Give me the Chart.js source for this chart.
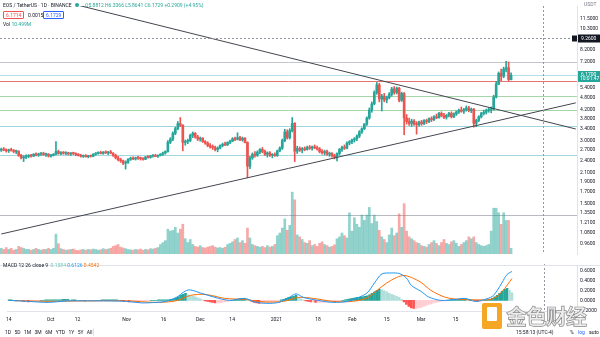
<!DOCTYPE html>
<html>
<head>
<meta charset="utf-8">
<script src="https://cdn.jsdelivr.net/npm/chart.js@4.4.1/dist/chart.umd.min.js"></script>
<style>
  body { margin: 0; background: #fff; font-family: Roboto, "Liberation Sans", sans-serif; }
  #wrap { position: relative; width: 600px; height: 337px; overflow: hidden; background: #fff; }
  canvas { position: absolute; left: 0; }
  #main { top: 0; }
  #macd { top: 260px; }
  .t { position: absolute; white-space: nowrap; font-size: 5px; line-height: 6px; color: #131722; }
  .teal { color: #26a69a; }
  .box { position: absolute; font-size: 5px; line-height: 6px; padding: 0 2px; border-radius: 1px; background: #fff; }
  .tb span { margin-right: 3.4px; }
  #wm { position: absolute; left: 482px; top: 302px; width: 110px; height: 30px; }
  #wm .ico { position: absolute; left: 0; top: 1px; width: 20px; height: 26px; background: #f5a623; border-radius: 2px; }
  #wm .ico2 { position: absolute; left: 5px; top: 4px; width: 10px; height: 14px; background: #fff; border-radius: 1px; }
  #wm .txt { position: absolute; left: 24px; top: -2px; font-family: "Noto Sans CJK SC"; font-weight: bold; font-size: 21px; color: #ececec; -webkit-text-stroke: 0.7px #8a8a8a; letter-spacing: -1px; }
</style>
</head>
<body>
<div id="wrap">
  <canvas id="main" width="600" height="260"></canvas>
  <canvas id="macd" width="600" height="64"></canvas>

  <div class="t" style="left:3px;top:2px;">EOS / TetherUS · 1D · BINANCE</div>
  <div style="position:absolute;left:75px;top:3px;width:4px;height:4px;border-radius:2px;background:#26a69a;"></div>
  <div class="t teal" style="left:85px;top:2px;">O5.8812 H6.3366 L5.8641 C6.1729 +0.2909 (+4.95%)</div>
  <div class="box" style="left:3px;top:11px;border:0.7px solid #ef5350;color:#ef5350;">6.1714</div>
  <div class="t" style="left:28px;top:12px;">0.0015</div>
  <div class="box" style="left:43px;top:11px;border:0.7px solid #2962ff;color:#2962ff;">6.1729</div>
  <div class="t" style="left:3px;top:21px;">Vol <span class="teal">10.499M</span></div>
  <div class="t" style="left:3px;top:262px;">MACD 12 26 close 9 &nbsp;<span style="color:#7fc7bf">0.1584</span> <span style="color:#2196f3">0.6126</span> <span style="color:#ff6d00">0.4542</span></div>
  <div class="t" style="left:584px;top:1px;color:#787b86;">USDT</div>

  <div class="t tb" style="left:5px;top:329px;color:#131722;"><span>1D</span><span>5D</span><span>1M</span><span>3M</span><span>6M</span><span>YTD</span><span>1Y</span><span>5Y</span><span>All</span></div>
  <div style="position:absolute;left:93px;top:328px;width:1px;height:8px;background:#e0e3eb;"></div>
  <div class="t" style="left:516px;top:329px;">15:58:13 (UTC-4)</div>
  <div class="t" style="left:570px;top:329px;">%</div>
  <div class="t" style="left:578px;top:329px;color:#2962ff;">log</div>
  <div class="t" style="left:589px;top:329px;">auto</div>

  <div id="wm"><div class="ico"><div class="ico2"></div></div><div class="txt">金色财经</div></div>
</div>

<script>
// daily candles, EOS/USDT (Binance), 2020-09-14 .. 2021-04-07, plus empty days on the right
const dayCount = 232;
const dates = [];
{
  const d = new Date(Date.UTC(2020, 8, 14));
  for (let i = 0; i < dayCount; i++) {
    dates.push(d.toISOString().slice(0, 10));
    d.setUTCDate(d.getUTCDate() + 1);
  }
}

const xTickLabels = {
  '2020-09-14': '14', '2020-10-01': 'Oct', '2020-10-12': '12', '2020-11-01': 'Nov',
  '2020-11-16': '16', '2020-12-01': 'Dec', '2020-12-14': '14', '2021-01-01': '2021',
  '2021-01-18': '18', '2021-02-01': 'Feb', '2021-02-15': '15', '2021-03-01': 'Mar',
  '2021-03-15': '15'
};

const priceTicks = [0.96, 1.08, 1.21, 1.35, 1.5, 1.7, 1.9, 2.1, 2.4, 2.7, 3.0, 3.4, 3.8, 4.2, 4.8, 5.4, 6.2, 7.2, 8.2, 9.2, 10.3, 11.5];
const macdTicks = [-0.2, 0, 0.2, 0.4, 0.6];

// [open, high, low, close]
const candles = [
  [2.70,2.76,2.66,2.72],[2.72,2.78,2.68,2.70],[2.70,2.74,2.64,2.68],[2.68,2.73,2.63,2.71],[2.71,2.76,2.67,2.69],
  [2.69,2.72,2.62,2.66],[2.66,2.70,2.60,2.67],[2.67,2.68,2.52,2.55],[2.55,2.58,2.45,2.48],[2.48,2.54,2.38,2.50],
  [2.50,2.56,2.46,2.52],[2.52,2.57,2.48,2.55],[2.55,2.58,2.50,2.53],[2.53,2.60,2.51,2.58],[2.58,2.62,2.53,2.56],
  [2.56,2.61,2.52,2.59],[2.59,2.63,2.55,2.60],[2.60,2.64,2.55,2.57],[2.57,2.61,2.52,2.58],[2.58,2.60,2.50,2.53],
  [2.53,2.58,2.50,2.55],[2.55,2.60,2.53,2.58],[2.58,2.97,2.56,2.66],[2.66,2.70,2.58,2.60],[2.60,2.66,2.57,2.63],
  [2.63,2.66,2.58,2.61],[2.61,2.65,2.57,2.62],[2.62,2.64,2.56,2.59],[2.59,2.63,2.55,2.61],[2.61,2.64,2.57,2.60],
  [2.60,2.62,2.54,2.57],[2.57,2.60,2.53,2.55],[2.55,2.58,2.50,2.52],[2.52,2.56,2.49,2.54],[2.54,2.57,2.50,2.51],
  [2.51,2.55,2.48,2.53],[2.53,2.56,2.50,2.52],[2.52,2.60,2.51,2.58],[2.58,2.63,2.55,2.61],[2.61,2.65,2.58,2.63],
  [2.63,2.67,2.59,2.60],[2.60,2.66,2.58,2.64],[2.64,2.68,2.60,2.62],[2.62,2.66,2.57,2.65],[2.65,2.69,2.60,2.61],
  [2.61,2.63,2.52,2.55],[2.55,2.58,2.45,2.48],[2.48,2.52,2.40,2.43],[2.43,2.47,2.36,2.40],[2.40,2.42,2.30,2.34],
  [2.34,2.40,2.19,2.36],[2.36,2.46,2.33,2.44],[2.44,2.50,2.41,2.47],[2.47,2.51,2.43,2.45],[2.45,2.50,2.42,2.48],
  [2.48,2.52,2.44,2.47],[2.47,2.50,2.42,2.46],[2.46,2.49,2.42,2.44],[2.44,2.52,2.43,2.50],[2.50,2.54,2.47,2.49],
  [2.49,2.55,2.47,2.53],[2.53,2.57,2.50,2.54],[2.54,2.58,2.51,2.52],[2.52,2.56,2.49,2.55],[2.55,2.60,2.53,2.58],
  [2.58,2.64,2.55,2.62],[2.62,2.68,2.58,2.66],[2.66,3.00,2.64,2.95],[2.95,3.10,2.90,3.05],[3.05,3.30,3.00,3.25],
  [3.25,3.48,3.20,3.42],[3.42,3.70,3.38,3.62],[3.62,3.87,3.50,3.55],[3.55,3.58,2.68,2.94],[2.94,3.02,2.85,2.97],
  [2.97,3.05,2.90,3.00],[3.00,3.22,2.96,3.18],[3.18,3.30,3.10,3.25],[3.25,3.28,3.08,3.12],[3.12,3.18,3.00,3.05],
  [3.05,3.12,2.98,3.08],[3.08,3.10,2.94,2.97],[2.97,3.00,2.88,2.92],[2.92,2.96,2.80,2.84],[2.84,2.90,2.76,2.80],
  [2.80,2.86,2.72,2.78],[2.78,2.82,2.68,2.72],[2.72,2.80,2.65,2.76],[2.76,2.86,2.74,2.84],[2.84,2.92,2.80,2.88],
  [2.88,2.95,2.84,2.86],[2.86,2.96,2.84,2.94],[2.94,3.02,2.90,2.98],[2.98,3.10,2.96,3.06],[3.06,3.12,3.00,3.04],
  [3.04,3.27,3.02,3.10],[3.10,3.14,3.00,3.02],[3.02,3.12,2.98,3.08],[3.08,3.10,2.92,2.94],[2.94,2.96,1.99,2.26],
  [2.26,2.52,2.20,2.48],[2.48,2.62,2.44,2.58],[2.58,2.66,2.50,2.55],[2.55,2.68,2.52,2.64],[2.64,2.75,2.60,2.72],
  [2.72,2.78,2.62,2.66],[2.66,2.70,2.55,2.58],[2.58,2.65,2.50,2.62],[2.62,2.66,2.52,2.55],[2.55,2.60,2.48,2.57],
  [2.57,2.62,2.52,2.54],[2.54,2.70,2.52,2.68],[2.68,2.80,2.65,2.76],[2.76,3.05,2.72,3.00],[3.00,3.40,2.96,3.30],
  [3.30,3.38,3.05,3.10],[3.10,3.42,3.05,3.35],[3.35,3.87,3.30,3.63],[3.63,3.66,2.38,2.67],[2.67,2.82,2.60,2.75],
  [2.75,2.80,2.66,2.70],[2.70,2.78,2.62,2.74],[2.74,2.80,2.68,2.72],[2.72,2.82,2.70,2.78],[2.78,2.84,2.72,2.76],
  [2.76,2.82,2.70,2.80],[2.80,2.86,2.74,2.77],[2.77,2.82,2.70,2.74],[2.74,2.78,2.62,2.66],[2.66,2.72,2.58,2.62],
  [2.62,2.70,2.56,2.66],[2.66,2.70,2.55,2.58],[2.58,2.64,2.52,2.60],[2.60,2.63,2.50,2.54],[2.54,2.58,2.45,2.50],
  [2.50,2.62,2.40,2.60],[2.60,2.75,2.56,2.72],[2.72,2.82,2.66,2.78],[2.78,2.86,2.72,2.76],[2.76,2.96,2.74,2.92],
  [2.92,3.00,2.86,2.96],[2.96,3.05,2.90,3.02],[3.02,3.10,2.95,3.06],[3.06,3.20,3.00,3.15],[3.15,3.35,3.10,3.30],
  [3.30,3.45,3.25,3.42],[3.42,3.62,3.38,3.60],[3.60,3.90,3.55,3.85],[3.85,4.30,3.80,4.20],[4.20,4.60,4.10,4.50],
  [4.50,5.20,4.45,5.10],[5.10,5.70,5.00,5.55],[5.55,5.65,4.60,4.75],[4.75,5.00,4.16,4.90],[4.90,5.05,4.60,4.70],
  [4.70,4.90,4.55,4.82],[4.82,5.10,4.75,5.00],[5.00,5.40,4.90,5.30],[5.30,5.45,5.00,5.10],[5.10,5.42,5.02,5.35],
  [5.35,5.40,4.60,4.68],[4.68,5.12,4.62,5.05],[5.05,5.10,3.20,3.85],[3.85,4.00,3.60,3.70],[3.70,3.85,3.55,3.62],
  [3.62,3.80,3.50,3.72],[3.72,3.78,3.55,3.60],[3.60,3.70,3.22,3.58],[3.58,3.72,3.52,3.68],[3.68,3.75,3.55,3.62],
  [3.62,3.78,3.58,3.74],[3.74,3.80,3.62,3.70],[3.70,3.86,3.66,3.82],[3.82,3.90,3.70,3.78],[3.78,3.95,3.74,3.90],
  [3.90,4.02,3.82,3.86],[3.86,4.10,3.84,4.05],[4.05,4.12,3.90,3.95],[3.95,4.05,3.82,3.88],[3.88,4.00,3.80,3.96],
  [3.96,4.10,3.90,4.05],[4.05,4.12,3.85,3.90],[3.90,4.08,3.86,4.02],[4.02,4.16,3.96,4.12],[4.12,4.25,4.05,4.20],
  [4.20,4.35,4.10,4.15],[4.15,4.28,4.05,4.22],[4.22,4.40,4.15,4.30],[4.30,4.38,4.12,4.18],[4.18,4.30,4.08,4.24],
  [4.24,4.28,3.48,3.63],[3.63,3.80,3.50,3.75],[3.75,3.95,3.70,3.90],[3.90,4.10,3.85,4.05],[4.05,4.20,3.98,4.10],
  [4.10,4.25,4.02,4.18],[4.18,4.30,4.10,4.22],[4.22,4.35,4.08,4.25],[4.25,4.95,4.20,4.85],[4.85,5.75,4.80,5.60],
  [5.60,6.40,5.55,6.30],[6.30,6.60,5.80,6.10],[6.10,6.75,6.00,6.60],[6.60,7.20,6.40,6.70],[6.70,7.15,5.80,5.88],
  [5.88,6.34,5.86,6.17]
];

// volume, millions
const volumes = [
  15,12,17,12,15,10,12,20,17,15,12,12,10,12,15,12,10,12,12,15,12,15,
  52,27,
  14,12,10,11,12,13,10,9,11,12,10,12,11,13,12,10,11,14,12,13,15,20,22,25,18,16,14,12,11,10,12,11,13,10,12,11,14,13,15,17,
  25,30,35,65,60,62,70,55,65,78,40,30,38,25,
  20,18,22,17,16,18,20,22,18,16,17,15,18,
  25,28,32,38,42,30,35,28,
  68,42,
  25,22,20,18,20,17,22,18,20,25,
  48,55,68,92,62,75,162,142,50,
  45,38,30,28,35,22,25,20,28,32,25,22,18,20,24,
  40,45,55,48,42,108,60,95,78,70,102,88,102,122,80,102,85,
  62,45,38,30,50,68,48,55,105,70,132,
  60,45,40,35,30,28,22,20,18,25,30,35,28,22,30,38,28,25,32,35,28,20,25,30,35,45,40,
  45,30,25,22,20,22,25,
  60,120,120,108,78,108,88,88,15
];

// MACD histogram, one per day
const macdHist = [
  0.01,0.01,0,-0.01,-0.01,-0.01,-0.02,-0.02,-0.03,-0.02,-0.02,-0.01,-0.01,0,0,0.01,0.01,0.01,0.01,0.01,0.01,0.01,
  0.02,0.02,0.02,0.01,0.01,0.01,0,0,0,-0.01,-0.01,-0.01,-0.01,-0.01,0,0,0.01,0.01,0.01,0.01,0.01,0.01,0.01,0,
  -0.01,-0.02,-0.02,-0.03,-0.03,-0.03,-0.02,-0.02,-0.01,-0.01,-0.01,-0.01,0,0,0,0.01,0.01,0.01,0.01,0.01,0.02,
  0.03,0.05,0.07,0.1,0.12,0.14,0.11,0.09,0.08,0.07,0.05,
  0.03,0.01,-0.01,-0.02,-0.03,-0.04,-0.05,-0.05,-0.05,-0.04,-0.03,-0.02,-0.01,0,
  0.01,0.02,0.03,0.03,0.04,0.03,0.02,
  -0.02,-0.04,-0.05,-0.06,-0.06,-0.05,-0.04,-0.04,-0.03,-0.03,-0.02,-0.01,
  0.01,0.02,0.04,0.06,0.07,0.08,0.1,0.06,
  0.03,0.01,-0.01,-0.02,-0.03,-0.03,-0.04,-0.04,-0.04,-0.04,-0.04,-0.03,-0.03,-0.02,-0.02,-0.02,
  -0.01,0,0.01,0.02,0.03,0.04,0.05,0.06,0.06,0.07,0.08,0.09,0.11,0.14,0.17,0.2,0.22,0.21,
  0.19,0.17,0.14,0.12,0.1,0.08,0.06,
  0.02,-0.03,-0.08,-0.12,-0.15,-0.16,-0.16,-0.15,-0.14,-0.12,-0.1,-0.08,-0.07,
  -0.05,-0.04,-0.03,-0.02,-0.01,-0.01,0,0.01,
  0.01,0.02,0.02,0.03,0.03,0.03,0.02,0.02,
  0.01,-0.01,-0.02,-0.02,
  -0.01,0,0.01,0.02,0.04,0.07,0.1,0.14,0.18,0.22,0.24,0.2,0.15
];

// [day index, value]
const macdLine = [
  [0,0.0],[8,-0.02],[16,-0.04],[24,-0.01],[32,-0.01],[40,-0.01],[48,-0.02],[54,-0.05],[60,-0.04],[64,-0.02],
  [68,0.05],[72,0.19],[74,0.21],[78,0.15],[84,0.06],[90,0.0],[96,0.04],[100,-0.03],[105,-0.06],[110,-0.04],
  [114,0.05],[117,0.13],[120,0.06],[126,0.0],[132,-0.04],[138,-0.02],[142,0.05],[146,0.15],[149,0.35],[152,0.53],
  [156,0.55],[159,0.54],[162,0.45],[164,0.30],[168,0.18],[171,0.07],[176,0.0],[182,0.02],[186,0.04],[190,-0.02],
  [194,0.02],[197,0.08],[199,0.2],[201,0.36],[203,0.52],[205,0.58]
];
const signalLine = [
  [0,0.0],[16,-0.02],[32,-0.01],[48,-0.01],[60,-0.04],[68,-0.01],[74,0.10],[80,0.12],[88,0.04],[96,0.02],
  [104,-0.03],[112,-0.02],[118,0.06],[124,0.04],[132,-0.02],[140,-0.02],[146,0.05],[150,0.2],[154,0.35],[158,0.46],
  [161,0.5],[164,0.46],[168,0.36],[172,0.2],[178,0.06],[184,0.02],[192,0.01],[197,0.03],[201,0.18],[205,0.44]
];

// drawn trend lines: [day index, price]
const trendDown = [[21, 14.3], [231, 3.41]];
const trendUp = [[0, 1.07], [231, 4.55]];

// horizontal levels
const levelPrices = [7.14, 6.20, 5.77, 4.93, 4.21, 3.52, 2.55, 1.32];
const levelColors = ['#c3c5cc', '#b2e0ea', '#e57373', '#a5d6a7', '#a5d6a7', '#9fd6df', '#9fd6df', '#b8bac2'];

const crossDate = '2021-04-20';
const crossPrice = 9.26;

const upColor = '#26a69a', downColor = '#ef5350';
const candleColors = candles.map(c => c[3] >= c[0] ? upColor : downColor);
const volColors = candles.map(c => c[3] >= c[0] ? 'rgba(38,166,154,0.5)' : 'rgba(239,83,80,0.5)');
const histColors = macdHist.map((v, i) => {
  const prev = i > 0 ? macdHist[i - 1] : 0;
  if (v >= 0) return v >= prev ? '#26a69a' : '#b2dfdb';
  return v < prev ? '#ff5252' : '#ffcdd2';
});

const tickFont = { family: 'Roboto, "Liberation Sans", sans-serif', size: 5 };
const axisW = s => { s.width = 23; };

const levelLines = {
  id: 'levelLines',
  beforeDatasetsDraw(chart) {
    const { ctx, chartArea: a, scales: { y } } = chart;
    ctx.save();
    ctx.lineWidth = 1;
    levelPrices.forEach((p, i) => {
      const py = Math.round(y.getPixelForValue(p)) + 0.5;
      ctx.strokeStyle = levelColors[i];
      ctx.beginPath();
      ctx.moveTo(a.left, py);
      ctx.lineTo(a.right, py);
      ctx.stroke();
    });
    ctx.restore();
  }
};

const crossAndLabels = {
  id: 'crossAndLabels',
  afterDraw(chart) {
    const { ctx, chartArea: a, scales: { x, y } } = chart;
    const cx = Math.round(x.getPixelForValue(dates.indexOf(crossDate))) + 0.5;
    const cy = Math.round(y.getPixelForValue(crossPrice)) + 0.5;
    ctx.save();
    ctx.strokeStyle = '#9598a1';
    ctx.lineWidth = 1;
    ctx.setLineDash([2, 2]);
    ctx.beginPath();
    ctx.moveTo(cx, a.top); ctx.lineTo(cx, a.bottom);
    ctx.moveTo(a.left, cy); ctx.lineTo(a.right, cy);
    ctx.stroke();
    ctx.setLineDash([]);

    ctx.font = '5px Roboto, "Liberation Sans", sans-serif';
    ctx.textBaseline = 'middle';
    // crosshair price label
    ctx.fillStyle = '#131722';
    ctx.fillRect(a.right + 1, cy - 4, 22, 8);
    ctx.fillRect(a.right - 5, cy - 3, 5, 6);
    ctx.fillStyle = '#fff';
    ctx.fillText(crossPrice.toFixed(4), a.right + 4, cy);
    // last price label
    const last = candles[candles.length - 1][3];
    const ly = Math.round(y.getPixelForValue(last));
    ctx.fillStyle = '#26a69a';
    ctx.fillRect(a.right + 1, ly - 4, 22, 11);
    ctx.fillStyle = '#fff';
    ctx.fillText(last.toFixed(4), a.right + 4, ly - 0.5);
    ctx.fillText('10:01:47', a.right + 3, ly + 4);
    ctx.restore();
  }
};

new Chart(document.getElementById('main'), {
  type: 'bar',
  data: {
    labels: dates,
    datasets: [
      {
        type: 'line', label: 'trend down', order: 0,
        data: trendDown.map(([i, p]) => ({ x: dates[i], y: p })),
        borderColor: '#434651', borderWidth: 1, pointRadius: 0
      },
      {
        type: 'line', label: 'trend up', order: 0,
        data: trendUp.map(([i, p]) => ({ x: dates[i], y: p })),
        borderColor: '#434651', borderWidth: 1, pointRadius: 0
      },
      {
        label: 'body', order: 1, grouped: false,
        data: candles.map(c => [c[0], c[3]]),
        backgroundColor: candleColors, barThickness: 2, minBarLength: 1
      },
      {
        label: 'wick', order: 2, grouped: false,
        data: candles.map(c => [c[2], c[1]]),
        backgroundColor: candleColors, barThickness: 1
      },
      {
        label: 'volume', order: 3, grouped: false, yAxisID: 'yv',
        data: volumes,
        backgroundColor: volColors, barThickness: 2
      }
    ]
  },
  options: {
    responsive: false,
    animation: false,
    devicePixelRatio: 1,
    layout: { padding: 0 },
    plugins: { legend: { display: false }, tooltip: { enabled: false } },
    scales: {
      x: { display: false, offset: true },
      y: {
        type: 'logarithmic', position: 'right', min: 0.858, max: 13.25,
        afterFit: axisW,
        afterBuildTicks: s => { s.ticks = priceTicks.map(v => ({ value: v })); },
        ticks: { autoSkip: false, font: tickFont, color: '#131722', padding: 3, callback: v => Number(v).toFixed(4) },
        grid: { display: false, drawTicks: false },
        border: { display: true, color: '#e0e3eb' }
      },
      yv: { display: false, min: 0, max: 650 }
    }
  },
  plugins: [levelLines, crossAndLabels]
});

const macdCross = {
  id: 'macdCross',
  afterDatasetsDraw(chart) {
    const { ctx, chartArea: a, scales: { x } } = chart;
    const cx = Math.round(x.getPixelForValue(dates.indexOf(crossDate))) + 0.5;
    ctx.save();
    ctx.strokeStyle = '#9598a1';
    ctx.setLineDash([2, 2]);
    ctx.beginPath();
    ctx.moveTo(cx, a.top - 2); ctx.lineTo(cx, a.bottom);
    ctx.stroke();
    ctx.setLineDash([]);
    ctx.strokeStyle = '#e0e3eb';
    ctx.beginPath();
    ctx.moveTo(0, a.top - 0.5); ctx.lineTo(a.right + 23, a.top - 0.5);
    ctx.stroke();
    ctx.restore();
  }
};

new Chart(document.getElementById('macd'), {
  type: 'bar',
  data: {
    labels: dates,
    datasets: [
      {
        type: 'line', label: 'MACD', order: 0,
        data: macdLine.map(([i, v]) => ({ x: dates[i], y: v })),
        borderColor: '#2196f3', borderWidth: 1, pointRadius: 0, tension: 0.3
      },
      {
        type: 'line', label: 'Signal', order: 0,
        data: signalLine.map(([i, v]) => ({ x: dates[i], y: v })),
        borderColor: '#ff6d00', borderWidth: 1, pointRadius: 0, tension: 0.3
      },
      {
        label: 'Histogram', order: 1,
        data: macdHist,
        backgroundColor: histColors, barThickness: 2
      }
    ]
  },
  options: {
    responsive: false,
    animation: false,
    devicePixelRatio: 1,
    layout: { padding: { top: 2 } },
    plugins: { legend: { display: false }, tooltip: { enabled: false } },
    scales: {
      x: {
        offset: true,
        afterFit: s => { s.height = 13; },
        ticks: {
          autoSkip: false, maxRotation: 0, font: tickFont, color: '#131722', padding: 6,
          callback: (v, i) => xTickLabels[dates[i]] || ''
        },
        grid: { display: false, drawTicks: false },
        border: { display: true, color: '#e0e3eb' }
      },
      y: {
        position: 'right', min: -0.213, max: 0.69,
        afterFit: axisW,
        afterBuildTicks: s => { s.ticks = macdTicks.map(v => ({ value: v })); },
        ticks: { autoSkip: false, font: tickFont, color: '#131722', padding: 3, callback: v => Number(v).toFixed(4) },
        grid: { display: false, drawTicks: false },
        border: { display: true, color: '#e0e3eb' }
      }
    }
  },
  plugins: [macdCross]
});
</script>
</body>
</html>
